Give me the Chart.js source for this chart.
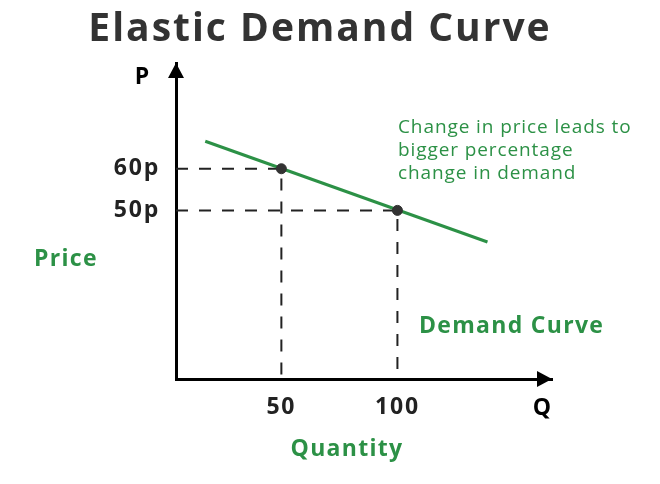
<!DOCTYPE html>
<html>
<head>
<meta charset="utf-8">
<script src="https://cdn.jsdelivr.net/npm/chart.js@4/dist/chart.umd.min.js"></script>
<style>
  html,body{margin:0;padding:0;background:#fff;}
  #wrap{width:660px;height:484px;}
</style>
</head>
<body>
<div id="wrap"><canvas id="c" width="660" height="484"></canvas></div>
<script>
// values
const curveQ = [17.2, 138.8];
const curveP = [66.6, 42.4];
const markQ = [50, 100];
const markP = [60, 50];
const qTicks = [50, 100];
const pTicks = [50, 60];
const qRange = [4.6, 166.6];
const pRange = [9.5, 85.4];

const GREEN = '#2c9146';
const FONT = '"Open Sans", sans-serif';

const guides = markQ.map((q, i) => ({
  type: 'line',
  data: [{x: qRange[0], y: markP[i]}, {x: q, y: markP[i]}, {x: q, y: pRange[0]}],
  borderColor: '#222', borderWidth: 2, borderDash: [12, 11],
  pointRadius: 0, fill: false, order: 3
}));

// widen the text a bit so it sits like the original geometric font
const spacing = {
  id: 'spacing',
  beforeDraw(chart){ chart.ctx.letterSpacing = '1.8px'; }
};

const extras = {
  id: 'extras',
  afterDraw(chart){
    const {ctx, chartArea: a} = chart;
    ctx.save();
    ctx.fillStyle = '#000';
    // arrow heads
    ctx.beginPath();
    ctx.moveTo(a.left, a.top); ctx.lineTo(a.left - 8, a.top + 15); ctx.lineTo(a.left + 8, a.top + 15);
    ctx.closePath(); ctx.fill();
    ctx.beginPath();
    ctx.moveTo(a.right, a.bottom); ctx.lineTo(a.right - 15, a.bottom - 8); ctx.lineTo(a.right - 15, a.bottom + 8);
    ctx.closePath(); ctx.fill();

    // title
    ctx.fillStyle = '#333';
    ctx.textAlign = 'center';
    ctx.textBaseline = 'alphabetic';
    ctx.letterSpacing = '2px';
    ctx.font = 'bold 39px ' + FONT;
    ctx.fillText('Elastic Demand Curve', 320, 41);

    ctx.fillStyle = '#000';
    ctx.textBaseline = 'middle';
    ctx.letterSpacing = '0px';
    ctx.font = 'bold 23px ' + FONT;
    ctx.fillText('P', 142, 77);
    ctx.fillText('Q', 542, 408);

    ctx.fillStyle = GREEN;
    ctx.letterSpacing = '1.3px';
    ctx.textAlign = 'left';
    ctx.fillText('Price', 34, 259);
    ctx.fillText('Demand Curve', 419, 326);
    ctx.textAlign = 'center';
    ctx.fillText('Quantity', 347, 449);

    ctx.textAlign = 'left';
    ctx.letterSpacing = '0.9px';
    ctx.font = '19px ' + FONT;
    ['Change in price leads to', 'bigger percentage', 'change in demand']
      .forEach((t, i) => ctx.fillText(t, 398, 128 + i * 23));
    ctx.restore();
  }
};

new Chart(document.getElementById('c'), {
  type: 'scatter',
  data: {
    datasets: [
      {
        type: 'line',
        data: curveQ.map((q, i) => ({x: q, y: curveP[i]})),
        borderColor: GREEN, borderWidth: 3, pointRadius: 0, order: 2
      },
      {
        data: markQ.map((q, i) => ({x: q, y: markP[i]})),
        backgroundColor: '#333', borderColor: '#333', pointRadius: 5, order: 1
      },
      ...guides
    ]
  },
  options: {
    responsive: false,
    animation: false,
    layout: {padding: {top: 63, right: 108, left: 0, bottom: 0}},
    plugins: {
      legend: {display: false},
      tooltip: {enabled: false}
    },
    scales: {
      x: {
        type: 'linear', min: qRange[0], max: qRange[1],
        grid: {display: false},
        border: {display: true, color: '#000', width: 3},
        afterBuildTicks: s => { s.ticks = qTicks.map(v => ({value: v})); },
        afterFit: s => { s.height = 105; },
        ticks: {color: '#222', padding: 7, font: {family: FONT, size: 23, weight: 'bold'}}
      },
      y: {
        type: 'linear', min: pRange[0], max: pRange[1],
        grid: {display: false},
        border: {display: true, color: '#000', width: 3},
        afterBuildTicks: s => { s.ticks = pTicks.map(v => ({value: v})); },
        afterFit: s => { s.width = 176; },
        ticks: {color: '#222', padding: 8, font: {family: FONT, size: 23, weight: 'bold'},
          callback: v => v + 'p'}
      }
    }
  },
  plugins: [spacing, extras]
});
</script>
</body>
</html>
